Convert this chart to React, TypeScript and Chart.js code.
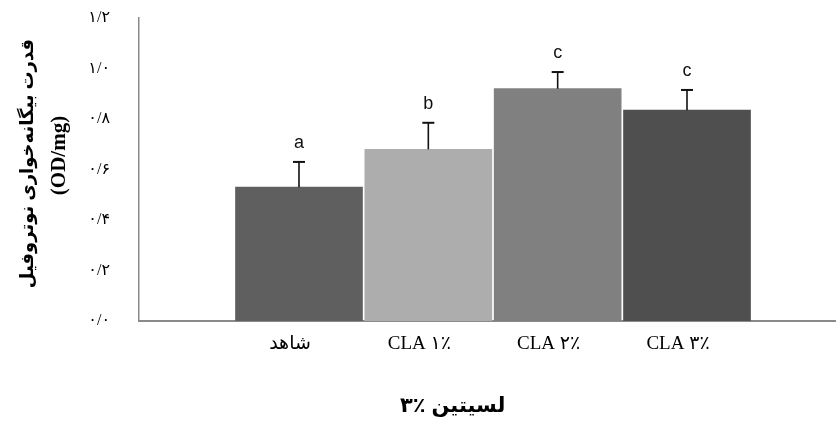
import { useEffect, useRef } from 'react';
import { Chart, registerables } from 'chart.js';

Chart.register(...registerables);

const categories = ['شاهد', 'CLA ۱٪', 'CLA ۲٪', 'CLA ۳٪'];
const means = [0.53, 0.68, 0.92, 0.835];
const errors = [0.1, 0.105, 0.066, 0.08];
const letters = ['a', 'b', 'c', 'c'];
const yTickLabels = ['۰/۰', '۰/۲', '۰/۴', '۰/۶', '۰/۸', '۱/۰', '۱/۲'];
const barColors = ['#5f5f5f', '#adadad', '#808080', '#4f4f4f'];
const yTitleMain = 'قدرت بیگانه‌خواری نوتروفیل';
const yTitleUnit = '(OD/mg)';
const xTitle = 'لسیتین ٪۳';

const SANS = "'Liberation Sans', 'DejaVu Sans', sans-serif";
const SERIF = "'Liberation Serif', 'DejaVu Serif', 'DejaVu Sans', serif";

const errorLetterPlugin = {
  id: 'errorLetters',
  afterDatasetsDraw(chart: any) {
    const ctx = chart.ctx;
    const meta = chart.getDatasetMeta(0);
    const yScale = chart.scales.y;
    ctx.save();
    meta.data.forEach((bar: any, i: number) => {
      const x = bar.x;
      const yTop = yScale.getPixelForValue(means[i] + errors[i]);
      ctx.strokeStyle = '#111';
      ctx.lineWidth = 1.6;
      ctx.beginPath();
      ctx.moveTo(x, bar.y);
      ctx.lineTo(x, yTop);
      ctx.stroke();
      ctx.lineWidth = 2;
      ctx.beginPath();
      ctx.moveTo(x - 6, yTop);
      ctx.lineTo(x + 6, yTop);
      ctx.stroke();
      ctx.fillStyle = '#111';
      ctx.font = `18px ${SANS}`;
      ctx.textAlign = 'center';
      ctx.textBaseline = 'alphabetic';
      ctx.fillText(letters[i], x, yTop - 14);
    });
    ctx.restore();
  },
  afterDraw(chart: any) {
    const ctx = chart.ctx;
    const area = chart.chartArea;
    ctx.save();
    ctx.fillStyle = '#000';
    ctx.textAlign = 'center';
    ctx.textBaseline = 'middle';
    // x-axis title
    ctx.font = `bold 21px ${SANS}`;
    ctx.direction = 'rtl';
    ctx.fillText(xTitle, area.left + (area.right - area.left) * 0.45, area.bottom + 85);
    // y-axis title (two lines, rotated)
    const midY = (area.top + area.bottom) / 2;
    ctx.translate(28, midY - 6);
    ctx.rotate(-Math.PI / 2);
    ctx.font = `bold 18px ${SANS}`;
    ctx.fillText(yTitleMain, 0, 0);
    ctx.direction = 'ltr';
    ctx.font = `bold 21px ${SERIF}`;
    ctx.fillText(yTitleUnit, 8, 32);
    ctx.restore();
  },
};

export default function App() {
  const ref = useRef<HTMLCanvasElement | null>(null);
  useEffect(() => {
    if (!ref.current) return;
    const chart = new Chart(ref.current, {
      type: 'bar',
      data: {
        datasets: [
          {
            data: means.map((v, i) => ({ x: i, y: v })),
            backgroundColor: barColors,
            borderWidth: 0,
            barThickness: 127,
          },
        ],
      },
      options: {
        animation: false,
        responsive: true,
        maintainAspectRatio: false,
        layout: { padding: { top: 18, left: 0, right: 0, bottom: 0 } },
        plugins: { legend: { display: false }, tooltip: { enabled: false }, title: { display: false } },
        scales: {
          x: {
            type: 'linear',
            offset: false,
            min: -1.237,
            max: 4.152,
            afterFit: (s: any) => {
              s.height = 102;
              s.paddingLeft = 0;
              s.paddingRight = 0;
            },
            grid: { display: false, drawTicks: false, offset: false },
            border: { display: true, color: '#8a8a8a', width: 2 },
            ticks: {
              stepSize: 1,
              includeBounds: false,
              autoSkip: false,
              maxRotation: 0,
              padding: 12,
              labelOffset: -9,
              color: '#000',
              font: { family: SERIF, size: 19 },
              callback: (v: any) => (Number.isInteger(v) && categories[v] !== undefined ? categories[v] : ''),
            },
          },
          y: {
            min: 0,
            max: 1.2,
            afterFit: (s: any) => {
              s.width = 139;
              s.paddingTop = 0;
              s.paddingBottom = 0;
            },
            grid: { display: false, drawTicks: false },
            border: { display: true, color: '#8a8a8a', width: 1.5 },
            ticks: {
              stepSize: 0.2,
              padding: 29,
              color: '#000',
              font: { family: SERIF, size: 16 },
              callback: (v: any) => yTickLabels[Math.round(Number(v) / 0.2)] ?? '',
            },
            title: { display: false },
          },
        },
      },
      plugins: [errorLetterPlugin],
    } as any);
    return () => chart.destroy();
  }, []);
  return (
    <div style={{ position: 'absolute', left: 0, top: 0, width: 836, height: 423, background: '#fff' }}>
      <canvas ref={ref} />
    </div>
  );
}
